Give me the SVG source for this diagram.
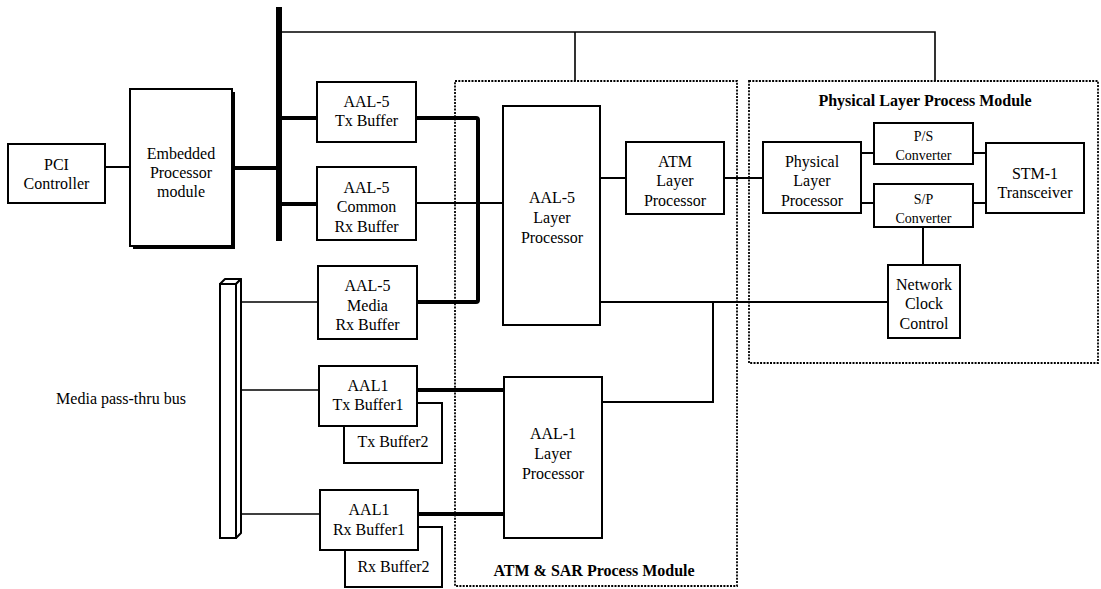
<svg xmlns="http://www.w3.org/2000/svg" width="1101" height="589" viewBox="0 0 1101 589">
<style>
.box{fill:#fff;stroke:#000;stroke-width:2}
.t{font-family:"Liberation Serif","Times New Roman",serif;font-size:16px;text-anchor:middle;fill:#000}
.ts{font-family:"Liberation Serif","Times New Roman",serif;font-size:14px;text-anchor:middle;fill:#000}
.tb{font-family:"Liberation Serif","Times New Roman",serif;font-size:16px;font-weight:bold;text-anchor:middle;fill:#000}
.mod{fill:none;stroke:#000;stroke-width:1.8;stroke-dasharray:2 1.3}
.thin{fill:none;stroke:#000;stroke-width:2}
.hair{fill:none;stroke:#000;stroke-width:1.6}
.thick{fill:none;stroke:#000;stroke-width:4}
</style>
<rect width="1101" height="589" fill="#fff"/>

<g id="modules">
<g id="atm-sar-module">
<rect class="mod" x="455" y="81" width="282" height="505"/>
<text class="tb" x="594" y="576">ATM &amp; SAR  Process Module</text>
</g>
<g id="physical-module">
<rect class="mod" x="749" y="81" width="349" height="282"/>
<text class="tb" x="925" y="106">Physical Layer Process Module</text>
</g>
</g>

<g id="connectors">
<path class="thin" d="M105 167H130"/>
<path class="thick" d="M232 168H277"/>
<path class="hair" d="M282 32H935V81M575 32V81"/>
<path class="thick" d="M282 118H317M282 204H317"/>
<path class="thick" d="M416 118H476Q478 118 478 120V300Q478 302 476 302H417"/>
<path class="thin" d="M416 203H503"/>
<path class="thin" d="M600 178H626M724 178H763"/>
<path class="thin" d="M861 153H874M973 153H986M861 203H874M973 203H986M923 227V265"/>
<path class="thin" d="M600 302H888M713 302V402H602"/>
<path class="hair" d="M241 302H318M241 390H319M241 514H320"/>
<path class="thick" d="M417 390H504M418 514H504"/>
</g>

<g id="pci-controller">
<rect class="box" x="8" y="144" width="97" height="59"/>
<text class="t" x="56.5" y="170">PCI</text>
<text class="t" x="56.5" y="189">Controller</text>
</g>

<g id="embedded-processor">
<path fill="none" stroke="#000" stroke-width="2" d="M234 92V248H133"/>
<rect class="box" x="130" y="89" width="102" height="157"/>
<text class="t" x="181" y="159">Embedded</text>
<text class="t" x="181" y="178">Processor</text>
<text class="t" x="181" y="197">module</text>
</g>

<g id="system-bus">
<rect x="276" y="7" width="6" height="234" fill="#000"/>
</g>

<g id="media-bus">
<path fill="#fff" stroke="#000" stroke-width="2" stroke-linejoin="round" d="M220 284L225 279H241L236 284Z"/>
<path fill="#fff" stroke="#000" stroke-width="2" stroke-linejoin="round" d="M236 284L241 279V533L236 538Z"/>
<rect class="box" x="220" y="284" width="16" height="254"/>
<text class="t" x="121" y="404">Media pass-thru bus</text>
</g>

<g id="aal5-tx-buffer">
<rect class="box" x="317" y="82" width="99" height="60"/>
<text class="t" x="366.5" y="107">AAL-5</text>
<text class="t" x="366.5" y="126">Tx Buffer</text>
</g>

<g id="aal5-common-rx-buffer">
<rect class="box" x="317" y="167" width="99" height="73"/>
<text class="t" x="366.5" y="193">AAL-5</text>
<text class="t" x="366.5" y="212">Common</text>
<text class="t" x="366.5" y="232">Rx Buffer</text>
</g>

<g id="aal5-media-rx-buffer">
<rect class="box" x="318" y="266" width="99" height="73"/>
<text class="t" x="367.5" y="291">AAL-5</text>
<text class="t" x="367.5" y="311">Media</text>
<text class="t" x="367.5" y="330">Rx Buffer</text>
</g>

<g id="aal5-layer-processor">
<rect class="box" x="503" y="106" width="97" height="219"/>
<text class="t" x="552" y="203">AAL-5</text>
<text class="t" x="552" y="223">Layer</text>
<text class="t" x="552" y="243">Processor</text>
</g>

<g id="atm-layer-processor">
<rect class="box" x="626" y="142" width="98" height="72"/>
<text class="t" x="675" y="167">ATM</text>
<text class="t" x="675" y="186">Layer</text>
<text class="t" x="675" y="206">Processor</text>
</g>

<g id="physical-layer-processor">
<rect class="box" x="763" y="142" width="98" height="71"/>
<text class="t" x="812" y="167">Physical</text>
<text class="t" x="812" y="186">Layer</text>
<text class="t" x="812" y="206">Processor</text>
</g>

<g id="ps-converter">
<rect class="box" x="874" y="123" width="99" height="41"/>
<text class="ts" x="923.5" y="141">P/S</text>
<text class="ts" x="923.5" y="160">Converter</text>
</g>

<g id="sp-converter">
<rect class="box" x="874" y="184" width="99" height="43"/>
<text class="ts" x="923.5" y="204">S/P</text>
<text class="ts" x="923.5" y="223">Converter</text>
</g>

<g id="stm1-transceiver">
<rect class="box" x="986" y="143" width="98" height="70"/>
<text class="t" x="1035" y="179">STM-1</text>
<text class="t" x="1035" y="198">Transceiver</text>
</g>

<g id="network-clock-control">
<rect class="box" x="888" y="265" width="72" height="73"/>
<text class="t" x="924" y="290">Network</text>
<text class="t" x="924" y="309">Clock</text>
<text class="t" x="924" y="329">Control</text>
</g>

<g id="aal1-tx-buffer2">
<rect class="box" x="344" y="403" width="98" height="60"/>
<text class="t" x="393" y="447">Tx Buffer2</text>
</g>

<g id="aal1-tx-buffer1">
<rect class="box" x="319" y="366" width="98" height="60"/>
<text class="t" x="368" y="391">AAL1</text>
<text class="t" x="368" y="410">Tx Buffer1</text>
</g>

<g id="aal1-rx-buffer2">
<rect class="box" x="345" y="527" width="97" height="60"/>
<text class="t" x="393.5" y="572">Rx Buffer2</text>
</g>

<g id="aal1-rx-buffer1">
<rect class="box" x="320" y="490" width="98" height="60"/>
<text class="t" x="369" y="515">AAL1</text>
<text class="t" x="369" y="535">Rx Buffer1</text>
</g>

<g id="aal1-layer-processor">
<rect class="box" x="504" y="377" width="98" height="161"/>
<text class="t" x="553" y="439">AAL-1</text>
<text class="t" x="553" y="459">Layer</text>
<text class="t" x="553" y="479">Processor</text>
</g>
</svg>
